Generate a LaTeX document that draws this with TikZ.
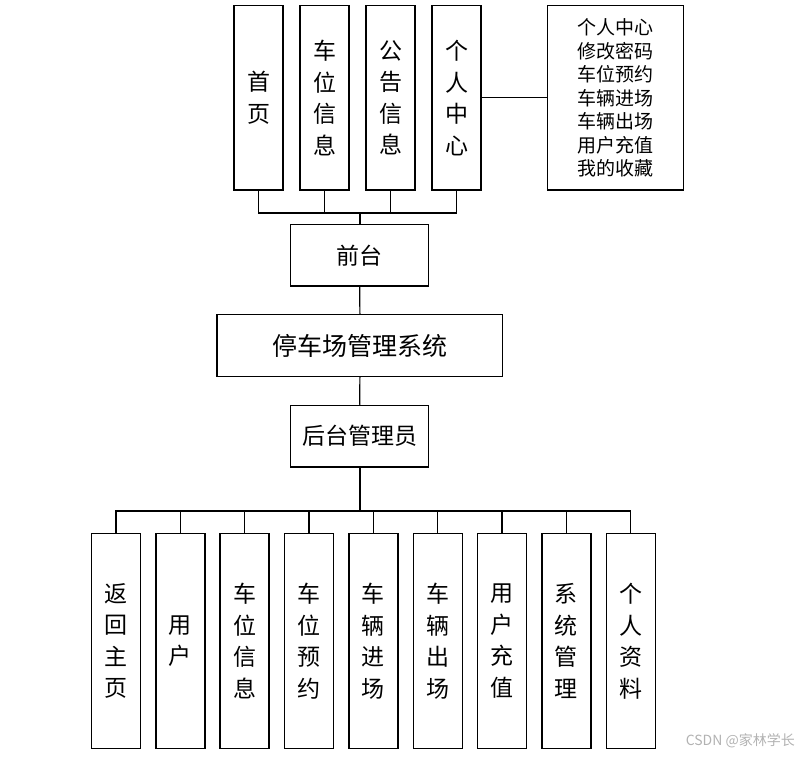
\documentclass[tikz,border=0pt]{standalone}
\usepackage{fontspec}
\setmainfont{Noto Sans CJK SC}
\begin{document}
\begin{tikzpicture}[x=1pt,y=-1pt,
  box/.style={draw,line width=1.4pt,inner sep=0pt,align=center},
  vbox/.style={box,minimum width=49pt,font=\fontsize{23}{31.5}\selectfont},
  hbox/.style={box,minimum height=61.5pt},
  conn/.style={line width=1.2pt},
  trunk/.style={line width=1.7pt}]
\useasboundingbox (0,0) rectangle (806,757);
% top row
\node[vbox,minimum height=184.3pt] (t1) at (258.5,97.9) {首\\页};
\node[vbox,minimum height=184.3pt] (t2) at (324.5,97.9) {车\\位\\信\\息};
\node[vbox,minimum height=184.3pt] (t3) at (390.5,97.9) {公\\告\\信\\息};
\node[vbox,minimum height=184.3pt] (t4) at (456.5,97.9) {个\\人\\中\\心};
\node[box,minimum width=135.6pt,minimum height=184.3pt,
  font=\fontsize{19}{23.5}\selectfont] (pc) at (615.5,97.9)
  {个人中心\\修改密码\\车位预约\\车辆进场\\车辆出场\\用户充值\\我的收藏};
\draw[conn] (t4.east) -- (pc.west);
% middle
\node[hbox,minimum width=138pt,font=\fontsize{23}{28}\selectfont] (front) at (359.7,255.2) {前台};
\node[hbox,minimum width=285.7pt,font=\fontsize{25}{30}\selectfont] (sys) at (359.9,345.5) {停车场管理系统};
\node[hbox,minimum width=138pt,font=\fontsize{23}{28}\selectfont] (admin) at (359.7,436.2) {后台管理员};
\coordinate (tb) at (359.7,213);
\coordinate (bb) at (359.7,511);
\foreach \i in {1,...,4}{\draw[conn] (t\i.south) |- (tb);}
\draw[trunk] (tb) -- (front.north);
\draw[conn] (front.south) -- (sys.north);
\draw[conn] (sys.south) -- (admin.north);
\draw[trunk] (admin.south) -- (bb);
% bottom row
\foreach \n/\t [count=\i from 0] in {b1/{返\\回\\主\\页},b2/{用\\户},b3/{车\\位\\信\\息},b4/{车\\位\\预\\约},b5/{车\\辆\\进\\场},b6/{车\\辆\\出\\场},b7/{用\\户\\充\\值},b8/{系\\统\\管\\理},b9/{个\\人\\资\\料}}{
  \node[vbox,minimum height=214.6pt] (\n) at (116+64.34*\i,641) {\t};
  \draw[conn] (\n.north) |- (bb);
}
\node[text=black!30,font=\fontsize{14}{16}\selectfont,anchor=east,inner sep=0pt] (wm) at (795,741) {CSDN @家林学长};
\end{tikzpicture}
\end{document}
